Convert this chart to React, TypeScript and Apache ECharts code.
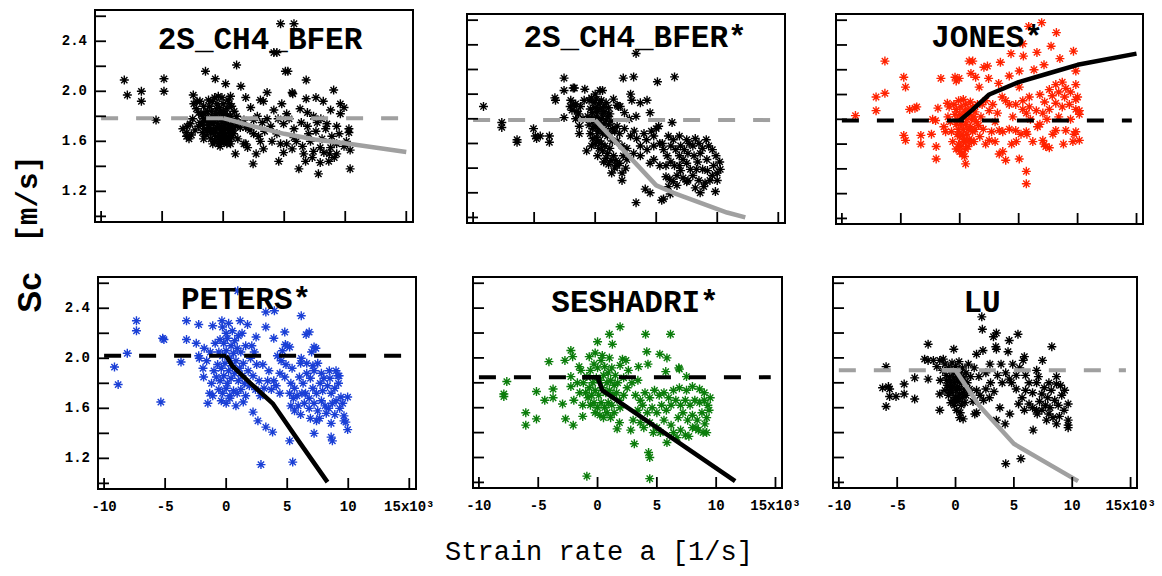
import React, { useEffect, useRef } from "react";
import * as echarts from "echarts";

// ---------- data (strain rate in 10^3 1/s, Sc in m/s) ----------
const xTickValues = [-10, -5, 0, 5, 10, 15];
const yTickValues = [1.0, 1.2, 1.4, 1.6, 1.8, 2.0, 2.2, 2.4, 2.6];
const yTickLabels = [1.2, 1.6, 2.0, 2.4];
const titles = ["2S_CH4_BFER", "2S_CH4_BFER*", "JONES*", "PETERS*", "SESHADRI*", "LU"];

const p1Points = [
  [-8.1,2.09],[-7.85,1.97],[-6.7,2.0],[-6.7,1.92],[-4.85,2.1],[-4.85,2.0],[-5.5,1.77],[-2.95,1.72],[-2.45,1.97],[-2.15,1.92],[-1.45,2.16],[-0.65,2.1],[0.2,2.06],[1.1,2.21],[1.45,2.04],[1.85,1.95],[1.85,1.58],[1.0,1.5],[2.45,1.42],[-0.1,1.95],[0.6,1.96],
  [4.7,2.54],[5.8,2.54],[4.15,2.31],[4.4,2.31],[5.1,2.16],[5.3,2.16],[5.65,1.99],[5.7,1.98],[6.8,2.09],[9.05,2.01],[3.6,1.99],[3.05,1.93],[3.3,1.92],[4.8,1.9],[6.8,1.94],[7.6,1.95],[8.2,1.92],[9.6,1.9],[9.9,1.87],[8.8,1.85],[6.3,1.86],[5.2,1.82],[4.15,1.85],[2.25,1.87],[2.8,1.8],[3.6,1.78],
  [4.55,1.44],[4.95,1.51],[5.65,1.54],[6.2,1.38],[6.75,1.44],[7.8,1.34],[7.95,1.43],[8.65,1.44],[9.3,1.5],[10.4,1.38],[10.4,1.53],[10.3,1.7],[10.3,1.67],[7.95,1.55],[8.25,1.51],[7.4,1.52],[8.8,1.55],[9.3,1.58],[7.15,1.6],[5.8,1.63],[4.7,1.58],[3.05,1.6],[3.3,1.54],[2.5,1.66],[3.9,1.72],[4.95,1.74],[5.8,1.7],[6.9,1.72],[7.7,1.75],[8.5,1.74],[9.3,1.72],[9.6,1.82],[7.4,1.8],[1.7,1.77],[1.85,1.71],[2.5,1.77],[0.85,1.66],[1.4,1.71],[0.6,1.58],[1.7,1.58],
  [6.0,1.6],[6.5,1.56],[7.0,1.66],[7.6,1.68],[8.1,1.62],[8.9,1.64],[9.5,1.66],[8.4,1.7],[6.4,1.75],[5.4,1.78],[4.4,1.66],[3.4,1.68],[2.9,1.64],[4.0,1.6],[5.2,1.58],[6.6,1.5],[7.3,1.47],[8.7,1.5],[9.1,1.47],[9.9,1.56],[10.1,1.6],[8.0,1.78],[6.9,1.83],[4.5,1.78],[3.2,1.75],[2.2,1.69],[1.2,1.62],[2.0,1.55],[2.7,1.5],
  [-2.4,1.9],[-2.2,1.86],[-2.0,1.83],[-1.8,1.81],[-1.6,1.78],[-1.4,1.76],[-1.2,1.73],[-1.0,1.7],[-0.8,1.67],[-0.6,1.64],[-0.4,1.62],[-0.2,1.6],[0.0,1.59],[0.2,1.61],[0.4,1.63],[0.6,1.66],[0.8,1.69],[1.0,1.72],[1.2,1.75],
  [-2.6,1.65],[-2.3,1.69],[-2.0,1.72],[-1.7,1.67],[-1.5,1.7],[-1.3,1.84],[-1.1,1.88],[-0.9,1.92],[-0.7,1.95],[-0.5,1.9],[-0.3,1.87],[-0.1,1.84],[0.1,1.82],[0.3,1.86],[0.5,1.9],[0.7,1.88],[0.9,1.84],[1.1,1.8],
  [-1.9,1.75],[-1.7,1.73],[-1.2,1.78],[-0.9,1.8],[-0.6,1.82],[-0.3,1.79],[-0.1,1.76],[0.2,1.74],[0.4,1.77],[0.6,1.8],[0.8,1.76],[-0.8,1.74],[-0.5,1.71],[-0.2,1.69],[0.1,1.67],[0.4,1.7],[0.7,1.72],[-1.0,1.62],[-0.7,1.6],[-0.4,1.58],[-0.1,1.63],[0.3,1.58],[0.5,1.6],[-1.4,1.65],[-1.6,1.62],[-2.8,1.62],[-3.0,1.67],[-2.7,1.74],[-2.5,1.78],[-1.2,1.93],[-0.4,1.96],[0.0,1.9],[0.4,1.93],[-1.6,1.88],[-1.9,1.92],[-3.3,1.7],[-3.0,1.64],
  [-1.1,1.75],[-0.75,1.77],[-0.45,1.74],[-0.15,1.72],[0.15,1.7],[0.45,1.73],[-1.05,1.67],[-0.65,1.69],[-0.35,1.66],[-0.05,1.65],[0.25,1.64],[0.55,1.69],[-0.95,1.84],[-0.55,1.86],[-0.25,1.83],[0.05,1.79],[0.35,1.81],[-0.85,1.58],[-0.25,1.56],[0.15,1.6],[-1.3,1.69],[-1.5,1.82],[-0.6,1.78],[0.0,1.71],[0.7,1.63]
];

const p2Points = [
  [-9.15,1.9],[-7.65,1.77],[-7.65,1.73],[-6.4,1.63],[-6.4,1.61],[-5.05,1.72],[-4.9,1.66],[-4.8,1.64],[-4.5,1.66],[-3.75,1.66],[-3.75,1.61],[-3.3,1.97],[-3.25,1.95],[-2.55,2.03],[-2.55,2.13],[-1.8,2.05],[-1.7,2.05],[-0.85,2.04],[-2.55,1.81],[-2.05,1.9],[-1.9,1.87],[-1.75,1.91],[-1.5,1.86],[-1.35,1.84],[-1.3,1.74],[-1.3,1.68],[-0.7,1.54],[0.0,2.0],[0.4,2.03],[0.6,2.03],
  [1.35,1.36],[2.2,1.36],[2.2,1.3],[2.6,1.47],[1.8,1.42],[3.35,1.12],[3.35,2.33],[2.3,2.13],[3.15,2.14],[5.1,2.1],[6.5,2.14],[2.9,2.0],[3.0,1.95],[2.05,1.9],[1.8,1.91],[3.7,1.93],[4.25,1.95],[3.35,1.82],[4.5,1.85],[6.3,1.77],[3.15,1.52],[3.7,1.5],[4.25,1.55],[4.8,1.58],[4.5,1.44],[4.1,1.23],[4.5,1.2],[5.45,1.14],[5.6,1.15],[6.15,1.19],
  [5.0,1.72],[5.2,1.74],[4.8,1.66],[4.2,1.63],[3.7,1.58],[5.3,1.6],[5.9,1.5],[5.3,1.42],[6.4,1.63],[6.9,1.66],[7.5,1.63],[8.0,1.58],[8.6,1.52],[9.15,1.47],[9.7,1.42],[10.0,1.36],[9.4,1.3],[8.9,1.25],[8.6,1.2],[9.85,1.21],[10.25,1.39],[6.9,1.5],[7.5,1.44],[7.8,1.39],[6.7,1.34],[6.1,1.31],[5.8,1.33],[6.4,1.29],[7.5,1.29],[8.0,1.34],[8.3,1.39],[9.1,1.63],[8.8,1.39],[6.9,1.42],[7.2,1.47],[4.8,1.47],[5.6,1.55],
  [6.0,1.66],[6.2,1.58],[6.6,1.55],[7.0,1.58],[7.3,1.55],[7.7,1.6],[8.2,1.64],[8.5,1.6],[8.8,1.56],[9.3,1.58],[9.6,1.55],[9.9,1.5],[10.2,1.45],[10.0,1.3],[9.6,1.34],[9.2,1.38],[8.4,1.45],[8.1,1.5],[7.6,1.52],[7.0,1.38],[6.5,1.42],[6.2,1.45],[5.8,1.42],[6.0,1.25],[6.7,1.26],[7.2,1.32],[8.5,1.3],[9.0,1.28],[8.2,1.24],[7.6,1.3],[5.5,1.6],[4.6,1.7],[4.0,1.68],[3.4,1.64],[3.2,1.7],
  [-0.5,1.95],[-0.3,1.97],[-0.1,1.93],[0.1,1.96],[0.3,1.92],[0.5,1.95],[0.7,1.9],[0.9,1.93],[1.1,1.89],[-0.4,1.88],[-0.2,1.85],[0.0,1.89],[0.2,1.86],[0.4,1.88],[0.6,1.84],[0.8,1.86],[1.0,1.82],[1.2,1.84],[-0.6,1.82],[-0.3,1.8],[-0.1,1.78],[0.1,1.81],[0.3,1.77],[0.5,1.8],[0.7,1.76],[0.9,1.79],[1.1,1.75],[1.3,1.78],[-0.5,1.75],[-0.2,1.72],[0.0,1.74],[0.2,1.7],[0.4,1.72],[0.6,1.68],[0.8,1.7],[1.0,1.66],[1.2,1.68],[1.4,1.72],[1.6,1.7],[1.8,1.74],[2.0,1.68],
  [0.1,1.65],[0.3,1.62],[0.5,1.6],[0.3,1.56],[0.6,1.54],[0.8,1.58],[1.0,1.52],[1.2,1.56],[0.9,1.48],[1.3,1.46],[1.5,1.5],[1.7,1.46],[1.6,1.4],[2.0,1.44],[2.3,1.5],[2.5,1.4],[0.0,1.6],[-0.2,1.64],[-0.4,1.68],[1.4,1.62],[1.8,1.62],[2.2,1.58],[2.6,1.56],[1.1,1.43],[0.7,1.45],[-0.3,1.58],[0.2,1.5],
  [-2.0,1.95],[-1.6,1.92],[-1.2,1.9],[-0.9,1.95],[-1.0,1.8],[-1.6,1.8],[1.5,1.96],[1.9,1.9],[2.4,1.85],[2.8,1.8],[2.4,1.72],[2.9,1.66]
];

const p3Points = [
  [-8.85,1.83],[-7.1,1.87],[-7.1,1.98],[-6.35,2.27],[-6.35,2.01],[-4.75,2.14],[-4.6,2.06],[-4.75,1.67],[-4.6,1.63],[-4.25,1.88],[-3.8,1.89],[-3.65,1.9],[-3.3,1.67],[-3.3,1.6],[-2.4,1.68],[-2.3,1.8],[-2.05,1.79],[-2.0,1.58],[-2.0,1.48],[-1.85,1.89],[-1.6,2.13],[-1.35,1.74],[-1.05,1.93],[-0.9,1.9],[-0.4,2.14],[-0.3,2.11],[-0.05,2.13],[0.8,2.27],[1.1,2.27],[0.95,2.17],[1.35,2.14],[1.65,2.06],[2.05,2.22],[2.35,2.23],[2.45,2.13],[3.3,2.09],[3.45,2.26],[4.35,2.33],[5.35,2.41],[5.4,2.31],[5.85,2.55],[6.55,2.34],[6.95,2.58],[7.75,2.39],[8.5,2.29],[8.2,2.5],[9.65,2.35],[7.15,2.24],[6.3,2.2],[5.05,2.06],[5.05,2.19],[4.2,2.15],
  [0.5,1.44],[2.2,1.6],[2.5,1.63],[3.35,1.71],[3.65,1.7],[4.2,1.72],[3.35,1.52],[3.65,1.54],[3.9,1.47],[4.75,1.71],[5.2,1.68],[5.05,1.48],[5.65,1.7],[5.7,1.68],[5.65,1.38],[5.65,1.28],[6.6,1.74],[7.05,1.63],[7.15,1.6],[7.3,1.58],[7.9,1.68],[8.15,1.71],[9.0,1.71],[9.7,1.68],[10.15,1.63],[9.85,1.7],
  [5.35,1.88],[5.65,1.85],[5.9,1.9],[6.5,1.87],[7.05,1.85],[7.6,1.88],[8.15,1.93],[8.7,1.9],[9.3,1.92],[9.85,1.96],[9.85,1.88],[7.85,1.99],[8.4,2.02],[9.0,2.05],[8.15,2.08],[8.7,2.1],[7.6,2.04],[9.85,2.08],[10.0,1.98],[9.85,2.19],[3.6,1.98],[3.9,1.95],[4.2,1.92],[5.35,1.95],[5.9,1.98],[4.75,1.92],[2.5,1.87],[2.8,1.92],[1.9,1.92],[2.2,1.95],[10.15,1.87],[10.15,1.84],
  [6.0,1.8],[6.8,1.76],[7.4,1.8],[8.4,1.82],[9.4,1.8],[4.5,1.82],[3.0,1.78],[2.7,1.7],[3.0,1.62],[4.4,1.6],[6.2,1.62],[7.6,1.57],[8.8,1.6],[9.6,1.62],[4.8,1.62],[3.2,1.85],[6.8,2.0],[7.2,1.94],[8.9,1.98],[9.4,2.02],
  [-0.5,1.92],[-0.3,1.88],[-0.1,1.95],[0.1,1.9],[0.3,1.96],[0.5,1.92],[0.7,1.88],[0.9,1.94],[1.1,1.9],[1.3,1.86],[1.5,1.92],[-0.4,1.84],[-0.2,1.8],[0.0,1.84],[0.2,1.82],[0.4,1.86],[0.6,1.8],[0.8,1.84],[1.0,1.8],[1.2,1.82],[1.4,1.78],[-0.3,1.76],[-0.1,1.72],[0.1,1.76],[0.3,1.72],[0.5,1.76],[0.7,1.72],[0.9,1.74],[1.1,1.7],[1.3,1.72],[-0.2,1.68],[0.0,1.66],[0.2,1.68],[0.4,1.64],[0.6,1.68],[0.8,1.64],[1.0,1.62],[-0.1,1.6],[0.1,1.58],[0.3,1.62],[0.5,1.56],[0.7,1.58],[0.0,1.54],[0.2,1.52],[0.4,1.5],[-0.3,1.56],[0.6,1.62],[1.2,1.62],[1.6,1.75],[1.8,1.82],[-0.7,1.7],[-0.6,1.62],[-0.8,1.78],[-1.0,1.82],[-1.2,1.7],[1.7,1.66],[2.0,1.72]
];

const p4Points = [
  [-9.15,1.93],[-8.85,1.79],[-8.1,2.04],[-7.35,2.3],[-7.35,2.22],[-5.2,2.16],[-5.1,2.15],[-5.35,1.65],[-3.7,1.97],[-3.25,2.3],[-3.25,2.15],[-2.45,2.12],[-2.25,2.27],[-2.25,2.02],[-2.2,2.0],[-1.9,1.92],[-1.85,1.85],[-1.5,1.64],[-1.35,1.72],[-1.1,2.26],[-0.35,2.3],[0.95,2.54],[1.15,2.3],[1.75,2.27],[2.45,2.17],[2.8,1.7],[2.2,1.57],[2.6,1.5],[2.85,1.15],[3.25,1.45],[3.8,1.41],[3.25,2.37],[3.25,2.25],[3.95,2.38],[3.9,2.16],[4.8,2.21],[4.85,2.11],[5.2,2.09],[5.2,1.34],[5.45,1.17],[6.15,2.34],[6.55,2.19],[6.8,2.21],[6.15,2.0],[7.2,2.09],[7.35,2.08],[7.2,1.4],[7.65,1.52],[8.6,1.48],[8.6,1.37],[8.7,1.34],[9.65,1.54],[9.65,1.5],[9.8,1.49],[9.95,1.43],[9.4,1.69],[9.55,1.64],[9.95,1.69],[8.45,1.9],[9.15,1.86],[9.25,1.86],
  [4.2,2.02],[4.5,1.98],[4.9,1.95],[5.4,1.92],[4.4,1.88],[4.8,1.85],[5.3,1.8],[5.6,1.76],[5.2,1.72],[5.5,1.68],[5.3,1.62],[5.6,1.58],[6.0,1.85],[6.3,1.8],[6.6,1.88],[6.9,1.84],[7.2,1.9],[7.5,1.96],[7.8,1.88],[6.5,1.72],[6.8,1.68],[7.1,1.76],[7.4,1.72],[7.7,1.8],[8.0,1.84],[8.3,1.78],[8.6,1.72],[8.9,1.76],[9.2,1.8],[6.4,1.64],[6.8,1.6],[7.2,1.64],[7.5,1.58],[7.8,1.66],[8.1,1.62],[8.4,1.6],[8.7,1.64],[9.0,1.66],[9.3,1.6],[6.1,1.55],[6.9,1.52],[7.4,1.5],[8.2,1.56],[8.9,1.55],[4.1,1.78],[4.4,1.72],[3.9,1.82],[3.7,1.75],[5.8,1.7],[6.1,1.96],[7.0,2.05],[5.0,2.1],[4.6,2.06],[3.5,1.9],[3.4,1.82],[3.1,1.76],
  [5.9,1.62],[6.2,1.72],[7.9,1.74],[8.5,1.84],[9.0,1.9],[6.6,1.96],[7.1,1.94],
  [-0.3,2.25],[0.0,2.2],[0.2,2.28],[0.5,2.22],[-0.5,2.15],[-0.2,2.12],[0.1,2.16],[0.4,2.1],[0.7,2.14],[1.0,2.18],[1.3,2.2],[-0.6,2.05],[-0.3,2.02],[0.0,2.06],[0.3,2.0],[0.6,2.04],[0.9,2.08],[1.2,2.05],[1.6,2.1],[-0.7,1.95],[-0.4,1.92],[-0.1,1.96],[0.2,1.9],[0.5,1.94],[0.8,1.98],[1.1,1.92],[1.4,1.96],[-0.8,1.85],[-0.5,1.82],[-0.2,1.86],[0.1,1.8],[0.4,1.84],[0.7,1.88],[1.0,1.82],[1.3,1.86],[-0.6,1.75],[-0.3,1.72],[0.0,1.76],[0.3,1.7],[0.6,1.74],[0.9,1.72],[-0.4,1.66],[0.0,1.64],[0.3,1.68],[1.2,1.75],[1.5,1.8],[1.8,1.9],[2.0,2.0],[2.1,2.1],[2.3,2.05],[1.9,1.78],[1.6,1.7],[2.2,1.86],[2.5,1.95],[-1.0,1.9],[-1.2,1.8],[-1.3,2.05],[-1.6,1.98],[-1.8,2.08],[-1.1,1.7],[-0.9,2.12],[2.7,1.82],[2.4,1.75],[3.0,1.95],[1.4,1.65],[0.8,1.62]
];

const p5Points = [
  [-7.9,1.71],[-7.9,1.69],[-7.65,1.81],[-6.05,1.56],[-6.05,1.46],[-5.15,1.51],[-5.15,1.73],[-4.45,1.66],[-4.1,1.97],[-3.75,1.75],[-3.75,1.68],[-2.95,1.63],[-2.75,1.98],[-2.7,1.51],[-2.25,2.06],[-2.1,2.01],[-2.25,1.85],[-2.25,1.77],[-2.0,1.66],[-2.05,1.46],[-1.55,1.93],[-1.4,1.9],[-1.25,1.62],[-1.25,1.53],[-0.9,1.05],[-0.7,2.01],[0.0,2.13],[1.0,2.19],[1.25,2.11],[1.9,2.25],[2.1,1.99],[2.4,1.98],[1.85,1.66],[1.85,1.48],[1.65,1.43],[2.8,1.42],[3.1,1.31],[3.45,1.93],[3.4,1.82],[4.05,2.19],[4.15,2.05],[4.25,1.95],[4.3,1.24],[4.4,1.2],[4.4,1.03],[5.25,2.03],[5.85,2.0],[6.15,2.19],[5.75,1.89],[5.85,1.32],[6.85,1.92],[6.9,1.91],[7.5,1.85],
  [6.9,1.76],[7.5,1.74],[8.0,1.77],[8.6,1.75],[9.0,1.72],[3.2,1.7],[3.6,1.66],[4.0,1.72],[4.4,1.68],[4.8,1.74],[5.2,1.7],[5.6,1.72],[6.0,1.68],[6.4,1.74],[3.4,1.58],[3.8,1.62],[4.2,1.56],[4.6,1.6],[5.0,1.56],[5.4,1.62],[5.8,1.58],[6.2,1.62],[6.6,1.66],[7.0,1.62],[7.4,1.66],[7.8,1.62],[8.2,1.66],[8.6,1.64],[9.0,1.66],[9.3,1.62],[3.0,1.5],[3.6,1.48],[4.4,1.48],[5.0,1.44],[5.6,1.5],[6.2,1.46],[6.8,1.52],[7.2,1.56],[7.6,1.5],[8.0,1.54],[8.4,1.5],[8.8,1.56],[9.2,1.52],[6.4,1.4],[7.0,1.42],[7.4,1.38],[8.0,1.44],[8.5,1.42],[8.9,1.4],[9.2,1.4],[8.3,1.44],[9.05,1.47],[7.7,1.37],[6.7,1.36],[5.3,1.4],[4.7,1.4],[3.9,1.44],[9.4,1.58],[9.5,1.68],
  [-1.2,1.8],[-0.9,1.85],[-0.6,1.9],[-0.3,1.95],[0.0,1.92],[0.3,1.98],[0.6,1.93],[0.9,1.88],[1.2,1.92],[1.5,1.86],[-1.0,1.72],[-0.7,1.76],[-0.4,1.8],[-0.1,1.84],[0.2,1.82],[0.5,1.86],[0.8,1.8],[1.1,1.82],[1.4,1.78],[1.7,1.8],[-0.8,1.68],[-0.5,1.7],[-0.2,1.74],[0.1,1.7],[0.4,1.76],[0.7,1.72],[1.0,1.74],[1.3,1.7],[1.6,1.72],[-0.6,1.62],[-0.3,1.64],[0.0,1.6],[0.3,1.64],[0.6,1.6],[0.9,1.64],[1.2,1.62],[-0.2,1.56],[0.2,1.54],[0.5,1.52],[0.8,1.56],[1.1,1.52],[1.4,1.56],[1.9,1.6],[2.2,1.7],[2.5,1.76],[2.2,1.84],[1.9,1.94],[2.6,1.9],[2.9,1.8],[-1.5,1.72],[-1.7,1.8],[0.4,2.02],[-0.2,2.04],[1.0,2.0]
];

const p6Points = [
  [-5.95,1.93],[-6.25,1.76],[-5.75,1.77],[-5.65,1.75],[-5.65,1.69],[-5.1,1.69],[-5.95,1.61],[-4.4,1.79],[-4.4,1.71],[-3.5,1.84],[-3.5,1.67],[-2.35,2.11],[-2.35,1.83],[-2.65,1.99],[-2.35,1.98],[-1.9,1.98],[-1.35,1.98],[-1.05,1.99],[-1.35,1.71],[-1.35,1.58],[-0.15,2.07],[2.25,2.33],[2.3,2.23],[3.25,2.17],[3.5,2.2],[3.45,2.09],[3.5,2.07],[4.6,2.14],[5.35,2.19],[4.5,2.05],[5.9,2.01],[5.8,1.98],[7.45,1.98],[8.25,2.09],[2.95,1.95],[1.8,2.03],[2.35,2.06],[4.3,1.15],[5.6,1.19],[4.25,1.47],[3.8,1.6],[4.65,1.55],[3.5,1.5],[6.65,1.42],[6.95,1.58],[8.65,1.85],[8.65,1.79],[9.35,1.74],[9.65,1.5],[9.65,1.46],[9.65,1.44],[8.65,1.47],[8.35,1.52],[7.8,1.5],[6.95,1.9],[7.1,1.85],[6.95,1.8],[9.65,1.63],[0.35,1.52],[0.65,1.51],[1.65,1.55],[1.8,1.56],
  [6.3,1.8],[6.0,1.74],[5.7,1.68],[5.4,1.63],[6.3,1.63],[7.4,1.71],[7.9,1.68],[8.5,1.66],[9.1,1.7],[7.4,1.58],[6.6,1.72],[7.2,1.65],[7.7,1.62],[8.1,1.6],[8.8,1.62],[9.3,1.58],[7.0,1.55],[8.0,1.55],[8.9,1.53],[7.6,1.76],[8.2,1.74],[8.0,1.8],[9.0,1.78],[6.6,1.6],[5.9,1.58],[5.2,1.75],[4.8,1.8],
  [4.0,1.8],[4.6,1.83],[5.2,1.86],[4.3,1.88],[3.6,1.86],[3.0,1.8],[2.6,1.75],[2.9,1.68],[3.3,1.73],[2.4,1.66],[2.1,1.7],[1.8,1.74],[1.5,1.65],[5.5,1.92],[6.0,1.86],[4.9,1.95],[3.9,1.95],[2.6,1.88],[2.0,1.85],[1.6,1.92],[1.1,1.95],
  [-0.9,1.95],[-0.6,1.92],[-0.3,1.96],[0.0,1.93],[0.3,1.97],[0.6,1.92],[0.9,1.88],[-0.8,1.86],[-0.5,1.84],[-0.2,1.88],[0.1,1.85],[0.4,1.88],[0.7,1.84],[1.0,1.8],[-0.7,1.78],[-0.4,1.76],[-0.1,1.8],[0.2,1.77],[0.5,1.8],[0.8,1.75],[-0.6,1.7],[-0.3,1.72],[0.0,1.68],[0.3,1.71],[0.6,1.68],[0.9,1.7],[-0.4,1.64],[-0.1,1.62],[0.2,1.65],[0.5,1.62],[0.8,1.64],[0.1,1.58],[0.4,1.56],[-1.1,1.9],[-1.3,1.82],[-1.6,1.93],[-0.9,1.74],[1.2,1.75],[1.3,1.85],
  [-0.75,1.82],[-0.45,1.8],[-0.15,1.84],[0.15,1.81],[0.45,1.84],[-0.55,1.74],[-0.25,1.76],[0.05,1.74],[0.35,1.75],[-0.2,1.66],[0.25,1.68],[0.65,1.72]
];

// model curves (solid) and reference levels (dashed)
const p1Fit = [[0,1.785],[2.5,1.72],[5,1.66],[7.5,1.615],[10,1.585],[15,1.515]];
const p2Fit = [[0,1.79],[5,1.26],[6.4,1.2],[10.8,1.04],[12.3,1.0]];
const p3Fit = [[0,1.79],[1,1.87],[2.5,2.0],[5,2.1],[7.5,2.17],[10,2.24],[15,2.33]];
const p4Fit = [[0,2.02],[0.5,1.94],[2,1.8],[3.8,1.64],[6,1.33],[8.3,1.01]];
const p5Fit = [[-1.3,1.845],[0,1.845],[0.4,1.74],[11.6,1.01]];
const p6Fit = [[-1.2,1.9],[0,1.9],[2,1.62],[5,1.31],[10.5,1.01]];
const refLevels = [1.785, 1.79, 1.79, 2.02, 1.845, 1.9];
const refSpan = [-10, 14.6];

// ---------- presentation ----------
const MONO = "'Liberation Mono', 'DejaVu Sans Mono', monospace";
const SANS = "'Liberation Sans', Arial, sans-serif";
const GRAY = "#a0a0a0";
const ASTERISK = "path://M5,0L5,10M0,5L10,5M1.5,1.5L8.5,8.5M1.5,8.5L8.5,1.5";
const FX = [-10.5, 15.55];
const FY = [0.955, 2.65];
const TICK_LEN = 11;

const panels = [
  { pts: p1Points, fit: p1Fit, color: "#000000", lineColor: GRAY, dashColor: GRAY, box: [95, 10, 318, 212], title: [260, 40], xl: false, yl: true },
  { pts: p2Points, fit: p2Fit, color: "#000000", lineColor: GRAY, dashColor: GRAY, box: [467, 14, 318, 209], title: [635, 38], xl: false, yl: false },
  { pts: p3Points, fit: p3Fit, color: "#ff2200", lineColor: "#000000", dashColor: "#000000", box: [836, 14, 307, 210], title: [987, 38], xl: false, yl: false },
  { pts: p4Points, fit: p4Fit, color: "#1a3fd6", lineColor: "#000000", dashColor: "#000000", box: [98, 277, 318, 212], title: [246, 300], xl: true, yl: true },
  { pts: p5Points, fit: p5Fit, color: "#0b7d0b", lineColor: "#000000", dashColor: "#000000", box: [473, 277, 309, 211], title: [635, 303], xl: true, yl: false },
  { pts: p6Points, fit: p6Fit, color: "#000000", lineColor: GRAY, dashColor: GRAY, box: [833, 277, 304, 211], title: [982, 303], xl: true, yl: false },
];

const labelFont = { fontFamily: MONO, fontSize: 14, fontWeight: "bold", color: "#000" };

function tickSeries(i: number, a: number[], b: number[]) {
  return {
    type: "line", xAxisIndex: i, yAxisIndex: i, data: [a, b],
    showSymbol: false, symbol: "none", z: 6, silent: true, clip: false,
    lineStyle: { color: "#000", width: 1.8, cap: "butt" },
    emphasis: { disabled: true },
  };
}

function buildOption() {
  const grid: any[] = [];
  const xAxis: any[] = [];
  const yAxis: any[] = [];
  const series: any[] = [];
  const graphic: any[] = [];

  panels.forEach((p, i) => {
    const [l, t, w, h] = p.box;
    grid.push({ left: l, top: t, width: w, height: h, show: true, borderColor: "#000", borderWidth: 2, backgroundColor: "transparent" });
    xAxis.push({
      type: "value", gridIndex: i, min: FX[0], max: FX[1], position: "bottom",
      axisLine: { show: false, onZero: false },
      splitLine: { show: false },
      axisTick: { show: false },
      axisLabel: {
        show: p.xl, customValues: xTickValues, margin: 11, ...labelFont,
        formatter: (v: number) => (v === 15 ? "15x10³" : String(v)),
      },
    });
    yAxis.push({
      type: "value", gridIndex: i, min: FY[0], max: FY[1], position: "left",
      axisLine: { show: false, onZero: false },
      splitLine: { show: false },
      axisTick: { show: false },
      axisLabel: {
        show: p.yl, customValues: yTickLabels, margin: 8, ...labelFont,
        formatter: (v: number) => v.toFixed(1),
      },
    });

    series.push({
      type: "scatter", xAxisIndex: i, yAxisIndex: i, data: p.pts,
      symbol: ASTERISK, symbolSize: 9, z: 2,
      itemStyle: { color: "transparent", borderColor: p.color, borderWidth: 1.4, opacity: 1 },
      emphasis: { disabled: true },
    });
    series.push({
      type: "line", xAxisIndex: i, yAxisIndex: i,
      data: [[refSpan[0], refLevels[i]], [refSpan[1], refLevels[i]]],
      showSymbol: false, symbol: "none", z: 3,
      lineStyle: { color: p.dashColor, width: 4, type: [17, 18], cap: "butt" },
    });
    series.push({
      type: "line", xAxisIndex: i, yAxisIndex: i, data: p.fit,
      showSymbol: false, symbol: "none", z: 4,
      lineStyle: { color: p.lineColor, width: 4.5, cap: "butt", join: "round" },
    });

    // inside ticks: short segments from the frame edge, placed by the axis scales
    const dyT = (TICK_LEN * (FY[1] - FY[0])) / h;
    const dxT = (TICK_LEN * (FX[1] - FX[0])) / w;
    xTickValues.forEach((v) => series.push(tickSeries(i, [v, FY[0]], [v, FY[0] + dyT])));
    yTickValues.forEach((v) => series.push(tickSeries(i, [FX[0], v], [FX[0] + dxT, v])));

    graphic.push({
      type: "text", x: p.title[0], y: p.title[1], z: 10,
      style: { text: titles[i], fontFamily: MONO, fontWeight: "bold", fontSize: 31, fill: "#000", textAlign: "center", textVerticalAlign: "middle" },
    });
  });

  graphic.push({
    type: "text", x: 599, y: 553,
    style: { text: "Strain rate a [1/s]", fontFamily: MONO, fontSize: 27, fill: "#000", textAlign: "center", textVerticalAlign: "middle" },
  });
  graphic.push({
    type: "text", x: 29, y: 234, rotation: Math.PI / 2,
    style: {
      text: "{s|Sc}{g|}{m|[m/s]}",
      textAlign: "center", textVerticalAlign: "middle",
      rich: {
        s: { fontFamily: SANS, fontWeight: "bold", fontSize: 33, fill: "#000" },
        g: { width: 30 },
        m: { fontFamily: MONO, fontWeight: "bold", fontSize: 29, fill: "#000" },
      },
      fontFamily: MONO, fontWeight: "bold", fontSize: 29, fill: "#000",
    },
  });

  return { animation: false, backgroundColor: "#fff", grid, xAxis, yAxis, series, graphic };
}

export default function App() {
  const ref = useRef<HTMLDivElement>(null);
  useEffect(() => {
    if (!ref.current) return;
    const chart = echarts.init(ref.current, null, { renderer: "svg" });
    chart.setOption(buildOption() as any);
    return () => chart.dispose();
  }, []);
  return <div ref={ref} style={{ position: "absolute", left: 0, top: 0, width: 1162, height: 576, background: "#fff" }} />;
}
